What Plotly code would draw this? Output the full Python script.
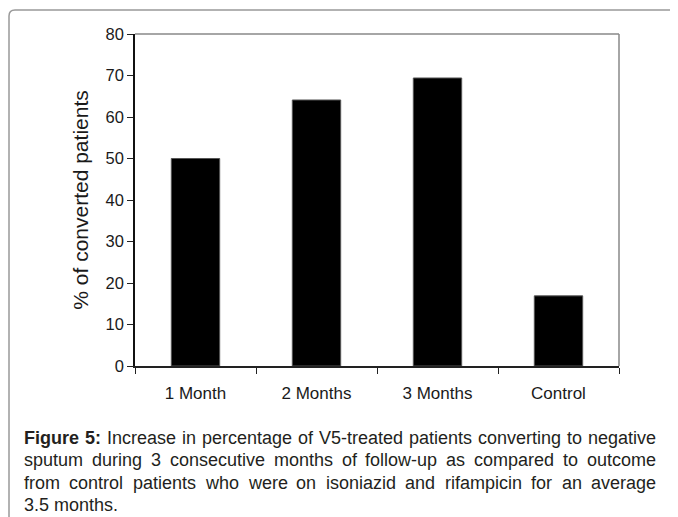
import plotly.graph_objects as go

categories = ["1 Month", "2 Months", "3 Months", "Control"]
values = [50.0, 64.1, 69.4, 16.9]
y_ticks = [0, 10, 20, 30, 40, 50, 60, 70, 80]

caption_lines = [
    "**Figure 5:** Increase in percentage of V5-treated patients converting to negative",
    "sputum during 3 consecutive months of follow-up as compared to outcome",
    "from control patients who were on isoniazid and rifampicin for an average",
    "3.5 months.",
]

# page body has an 8px margin, so the figure starts at (8, 8) in the window
OFF = 8
W, H = 678 - OFF, 517 - OFF
L, T = 135 - OFF, 34 - OFF
R, B = W - (619 - OFF), H - (366 - OFF)
PW, PH = W - L - R, H - T - B

def px_x(x):
    return (x - OFF - L) / PW

def px_y(y):
    return (H - B - (y - OFF)) / PH

fig = go.Figure()
fig.add_trace(go.Bar(
    x=categories, y=values, width=0.4,
    marker=dict(color="#000000", line=dict(color="#555555", width=1)),
))

font = "Liberation Sans, Arial, sans-serif"
fig.update_layout(
    width=W, height=H,
    margin=dict(l=L, r=R, t=T, b=B),
    paper_bgcolor="white", plot_bgcolor="white",
    showlegend=False,
    font=dict(family=font, color="#1a1a1a"),
    xaxis=dict(
        type="category", tickson="boundaries", ticks="outside", ticklen=6,
        tickcolor="#222", showline=True, linecolor="#222", linewidth=1.5,
        showgrid=False, tickfont=dict(size=17, color="#1a1a1a"),
        ticklabelstandoff=11,
    ),
    yaxis=dict(
        range=[0, 80], tickvals=y_ticks, ticks="outside", ticklen=6,
        tickcolor="#222", showline=True, linecolor="#111", linewidth=1.5,
        showgrid=False, zeroline=False, tickfont=dict(size=16.5, color="#1a1a1a"),
        title=dict(text="% of converted patients", font=dict(size=21, color="#1a1a1a"), standoff=11),
    ),
)

# top and right plot frame in gray
fig.add_shape(type="line", xref="paper", yref="paper", x0=0, x1=1, y0=1, y1=1,
              line=dict(color="#888888", width=1.5))
fig.add_shape(type="line", xref="paper", yref="paper", x0=1, x1=1, y0=0, y1=1,
              line=dict(color="#888888", width=1.5))

# outer rounded border
path = (f"M {px_x(9)},{px_y(530)} L {px_x(9)},{px_y(16)} "
        f"Q {px_x(9)},{px_y(10)} {px_x(15)},{px_y(10)} L {px_x(690)},{px_y(10)}")
fig.add_shape(type="path", xref="paper", yref="paper", path=path,
              line=dict(color="#999999", width=1.5))

# Arial / Liberation Sans advance widths (1/1000 em) for justified caption layout
REG = {" ": 278, "%": 889, "-": 333, ".": 278, ":": 278, "F": 611, "I": 278, "V": 667,
       "a": 556, "b": 556, "c": 500, "d": 556, "e": 556, "f": 278, "g": 556, "h": 556,
       "i": 222, "j": 222, "k": 500, "l": 222, "m": 833, "n": 556, "o": 556, "p": 556,
       "q": 556, "r": 333, "s": 500, "t": 278, "u": 556, "v": 500, "w": 722, "x": 500,
       "y": 500, "z": 500}
BOLD = {" ": 278, ":": 333, "F": 611, "i": 278, "g": 611, "u": 611, "r": 389, "e": 556}
for d in "0123456789":
    REG[d] = 556
    BOLD[d] = 556

CAP_SIZE = 18
CAP_LEFT, CAP_RIGHT = 23, 655
CAP_Y = [438, 460, 483, 505]
cap_font = dict(family=font, size=CAP_SIZE, color="#231f20")

def word_width(w, bold):
    table = BOLD if bold else REG
    return sum(table.get(c, 556) for c in w) / 1000 * CAP_SIZE

def add_word(text, x, y):
    fig.add_annotation(text=text, xref="paper", yref="paper", x=px_x(x), y=px_y(y),
                       xanchor="left", yanchor="middle", showarrow=False,
                       borderpad=0, font=cap_font)

for i, line in enumerate(caption_lines):
    tokens = []
    bold = False
    for part in line.split(" "):
        b = part.startswith("**") or bold
        clean = part.replace("**", "")
        if part.startswith("**") and not part.endswith("**"):
            bold = True
        if part.endswith("**") and part != "**":
            bold = False
        tokens.append((clean, b))
    widths = [word_width(t, b) for t, b in tokens]
    last = i == len(caption_lines) - 1
    if last:
        gap = REG[" "] / 1000 * CAP_SIZE
    else:
        gap = (CAP_RIGHT - CAP_LEFT - sum(widths)) / (len(tokens) - 1)
    x = CAP_LEFT
    for (t, b), w in zip(tokens, widths):
        add_word(f"<b>{t}</b>" if b else t, x, CAP_Y[i])
        x += w + gap

fig.write_html("out.html")
